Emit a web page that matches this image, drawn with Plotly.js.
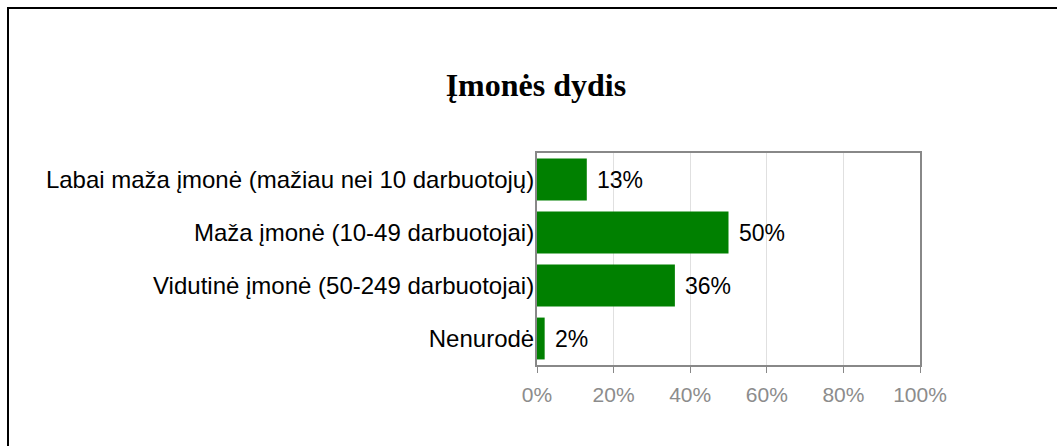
<!DOCTYPE html>
<html>
<head>
<meta charset="utf-8">
<script src="https://cdn.plot.ly/plotly-3.0.1.min.js"></script>
<style>
html,body{margin:0;padding:0;background:#fff;}
#wrap{position:relative;width:1057px;height:446px;}
#chart{width:1057px;height:446px;}
#frame{position:absolute;left:7px;top:7px;right:0;bottom:0;border-left:2px solid #000;border-top:2px solid #000;pointer-events:none;}
</style>
</head>
<body>
<div id="wrap"><div id="chart"></div><div id="frame"></div></div>
<script>
const categories = [
  "Labai maža įmonė (mažiau nei 10 darbuotojų)",
  "Maža įmonė (10-49 darbuotojai)",
  "Vidutinė įmonė (50-249 darbuotojai)",
  "Nenurodė"
];
const values = [13, 50, 36, 2];
const valueLabels = ["13%", "50%", "36%", "2%"];
const tickVals = [0, 20, 40, 60, 80, 100];
const tickText = ["0%", "20%", "40%", "60%", "80%", "100%"];
const chartTitle = "Įmonės dydis";

const trace = {
  type: "bar",
  orientation: "h",
  y: categories,
  x: values,
  marker: {color: "#008000"},
  hoverinfo: "none"
};

const annotations = values.map((v, i) => ({
  x: v, y: categories[i], xref: "x", yref: "y",
  text: valueLabels[i], showarrow: false,
  xanchor: "left", yanchor: "middle", xshift: 8,
  font: {family: "Liberation Sans, Arial, sans-serif", size: 23, color: "#000"}
}));

const layout = {
  width: 1057, height: 446,
  margin: {l: 537, r: 137, t: 153, b: 81, pad: 0},
  paper_bgcolor: "#fff", plot_bgcolor: "#fff",
  showlegend: false,
  bargap: 0.21,
  title: {
    text: "<b>" + chartTitle + "</b>",
    font: {family: "Liberation Serif, Times New Roman, serif", size: 32, color: "#000"},
    x: 0.507, xanchor: "center", y: 0.81, yanchor: "middle"
  },
  xaxis: {
    range: [0, 100], tickvals: tickVals, ticktext: tickText,
    showgrid: true, gridcolor: "#e0e0e0", gridwidth: 1,
    zeroline: false,
    showline: true, linecolor: "#888", linewidth: 2, mirror: true,
    ticks: "outside", ticklen: 6, tickcolor: "#888", tickwidth: 1,
    ticklabelstandoff: 4,
    tickfont: {family: "Liberation Sans, Arial, sans-serif", size: 21, color: "#8c8c8c"},
    fixedrange: true
  },
  yaxis: {
    autorange: "reversed",
    showline: true, linecolor: "#888", linewidth: 2, mirror: true,
    showgrid: false, zeroline: false, ticks: "",
    ticklabelstandoff: -4,
    tickfont: {family: "Liberation Sans, Arial, sans-serif", size: 24, color: "#000"},
    fixedrange: true
  },
  annotations: annotations
};

Plotly.newPlot("chart", [trace], layout, {displayModeBar: false, staticPlot: true});
</script>
</body>
</html>
